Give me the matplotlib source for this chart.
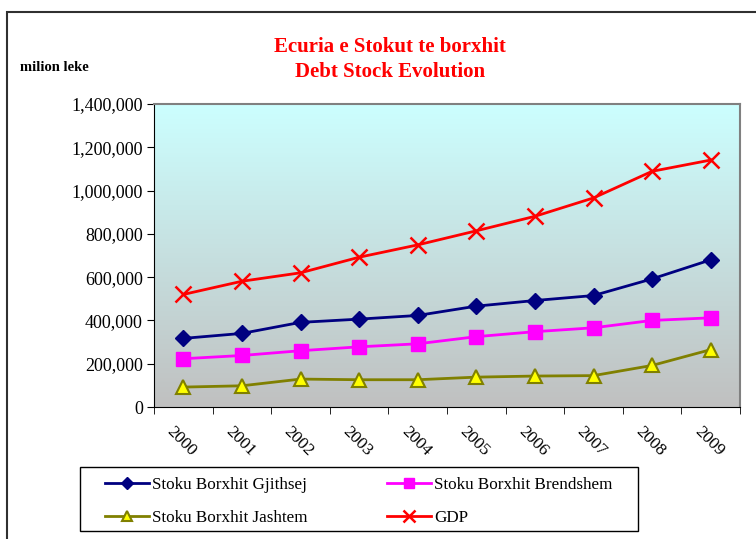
import numpy as np
import matplotlib
matplotlib.use('Agg')
import matplotlib.pyplot as plt
from matplotlib.patches import Rectangle
from matplotlib.ticker import FuncFormatter
from matplotlib.colors import LinearSegmentedColormap
import matplotlib.transforms as mtransforms

plt.rcParams['font.family'] = ['Liberation Serif', 'DejaVu Serif']

# Te dhenat (milion leke)
years = ['2000', '2001', '2002', '2003', '2004', '2005', '2006', '2007', '2008', '2009']
total = [317000, 340000, 391000, 406000, 423000, 466000, 492000, 515000, 592000, 680000]
domestic = [223000, 238000, 260000, 278000, 292000, 325000, 348000, 366000, 400000, 412000]
external = [92000, 98000, 129000, 126000, 126000, 138000, 143000, 145000, 192000, 265000]
gdp = [520000, 581000, 620000, 692000, 749000, 814000, 881000, 966000, 1089000, 1141000]

fig = plt.figure(figsize=(7.56, 5.39), dpi=100)
ax = fig.add_axes([154/756, 1-407/539, (740-154)/756, (407-104)/539])

# sfondi me gradient
cmap = LinearSegmentedColormap.from_list('bg', ['#C0C0C0', '#CCFFFF'])
grad = np.linspace(0, 1, 256).reshape(-1, 1)
ax.imshow(grad, cmap=cmap, origin='lower', aspect='auto',
          extent=[0, len(years), 0, 1400000], zorder=0)

x = np.arange(len(years)) + 0.5
l1, = ax.plot(x, total, color='#000080', lw=2, marker='D', ms=8, mfc='#000080', mec='#000080',
              label='Stoku Borxhit Gjithsej', zorder=3)
l2, = ax.plot(x, domestic, color='#FF00FF', lw=2, marker='s', ms=10, mfc='#FF00FF', mec='#FF00FF',
              label='Stoku Borxhit Brendshem', zorder=3)
l3, = ax.plot(x, external, color='#808000', lw=2, marker='^', ms=10, mfc='#FFFF00', mec='#808000',
              mew=1.5, label='Stoku Borxhit Jashtem', zorder=3)
l4, = ax.plot(x, gdp, color='#FF0000', lw=2, marker='x', ms=11, mew=1.8,
              label='GDP', zorder=3)

ax.set_xlim(0, len(years))
ax.set_ylim(0, 1400000)
ax.set_yticks(np.arange(0, 1400001, 200000))
ax.yaxis.set_major_formatter(FuncFormatter(lambda v, p: f'{int(v):,}'))
ax.tick_params(axis='y', direction='out', length=5, labelsize=13, pad=3)

ax.set_xticks(np.arange(0, len(years) + 1), minor=True)
ax.set_xticks(x)
ax.set_xticklabels(years, rotation=-45, ha='left', va='center', rotation_mode='anchor', fontsize=12.5)
ax.tick_params(axis='x', which='major', length=0, pad=0)
ax.tick_params(axis='x', which='minor', direction='out', length=5)
off = mtransforms.ScaledTranslation(-14/100, -22/100, fig.dpi_scale_trans)
for lab in ax.get_xticklabels():
    lab.set_transform(lab.get_transform() + off)

for s in ['top', 'right']:
    ax.spines[s].set_color('#808080')
    ax.spines[s].set_linewidth(1.5)
ax.spines['left'].set_color('black')
ax.spines['bottom'].set_color('black')

fig.text(390/756, 1 - 47/539, 'Ecuria e Stokut te borxhit', color='#FF0000',
         fontsize=15, fontweight='bold', ha='center', va='center')
fig.text(390/756, 1 - 72/539, 'Debt Stock Evolution', color='#FF0000',
         fontsize=15, fontweight='bold', ha='center', va='center')
fig.text(20/756, 1 - 67/539, 'milion leke', fontsize=10.5, fontweight='bold', ha='left', va='center')

# legjenda pa kornize, kornizen e vizatojme vete
leg = fig.legend([l1, l3, l2, l4], [l1.get_label(), l3.get_label(), l2.get_label(), l4.get_label()],
                 loc='upper left', bbox_to_anchor=(105/756, 1 - 477/539),
                 ncol=2, fontsize=12.3, frameon=False,
                 handlelength=2.6, borderaxespad=0, handletextpad=0.18,
                 labelspacing=1.02, columnspacing=4.6, borderpad=0, markerscale=0.75)
fig.patches.append(Rectangle((80/756, 1 - 531/539), (638-80)/756, (531-467)/539,
                             transform=fig.transFigure, fill=False, edgecolor='black', lw=1))

fig.patches.append(Rectangle((7/756, -0.1), 1.2, 1.1 - 12/539, transform=fig.transFigure,
                             fill=False, edgecolor='#303030', lw=1.5))

fig.savefig('out.png', dpi=100)
